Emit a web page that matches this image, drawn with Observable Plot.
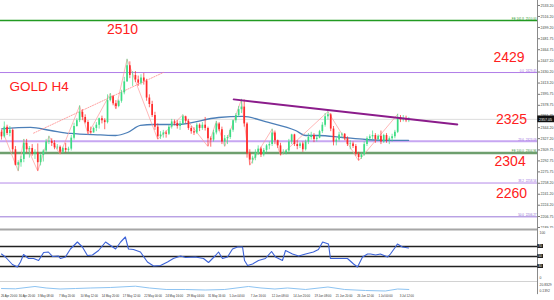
<!DOCTYPE html>
<html><head><meta charset="utf-8">
<script src="https://cdn.jsdelivr.net/npm/d3@7"></script>
<script src="https://cdn.jsdelivr.net/npm/@observablehq/plot@0.6"></script>
<style>
html,body{margin:0;padding:0;background:#fff;}
#wrap{position:relative;width:554px;height:300px;overflow:hidden;background:#fff;}
#wrap > div{position:absolute;left:0;}
svg{display:block;}
</style></head><body>
<div id="wrap"><div id="main" style="top:0"></div><div id="rsi" style="top:228px"></div><div id="sub" style="top:282px"></div></div>
<script>
// ---- DATA: XAUUSD candles (3 per trading day, 29 Apr - 4 Jul) ----
const openP = [2337,2330,2345, 2335,2340,2310, 2286,2290,2295, 2320,2310,2312, 2303,2305,2290, 2301,2308,2322, 2323,2320,2313, 2314,2306,2312, 2309,2311,2328, 2346,2355,2368, 2360,2352,2338, 2336,2343,2348, 2358,2355,2352, 2386,2392,2381, 2377,2385,2398, 2415,2440,2425, 2425,2418,2413, 2421,2416,2390, 2380,2363,2345, 2330,2333,2336, 2334,2345,2353, 2351,2346,2350, 2361,2354,2343, 2338,2336,2348, 2343,2348,2343, 2327,2325,2336, 2350,2341,2322, 2327,2329,2340, 2355,2363,2372, 2376,2350,2304, 2294,2297,2305, 2311,2302,2309, 2316,2318,2336, 2324,2316,2305, 2305,2308,2322, 2333,2318,2315, 2319,2310,2322, 2329,2332,2326, 2328,2338,2348, 2361,2364,2342, 2322,2325,2333, 2334,2327,2318, 2319,2315,2303, 2298,2302,2318, 2327,2330,2332, 2326,2331,2322, 2332,2324,2327, 2330,2337,2360, 2356,2358,2355];
const highP = [2340,2353,2348, 2346,2342,2315, 2293,2300,2326, 2326,2315,2318, 2310,2319,2303, 2310,2326,2331, 2327,2324,2318, 2316,2314,2320, 2314,2332,2351, 2358,2378,2372, 2364,2355,2345, 2345,2352,2359, 2362,2358,2395, 2397,2394,2386, 2387,2402,2422, 2450,2446,2431, 2431,2424,2426, 2428,2419,2395, 2385,2368,2350, 2338,2340,2339, 2348,2357,2356, 2355,2354,2364, 2362,2357,2346, 2344,2351,2350, 2352,2360,2345, 2330,2340,2354, 2352,2345,2332, 2332,2342,2356, 2366,2377,2388, 2387,2352,2310, 2300,2310,2316, 2314,2312,2318, 2322,2342,2339, 2325,2320,2310, 2310,2326,2334, 2334,2324,2321, 2322,2325,2335, 2337,2335,2331, 2340,2352,2366, 2369,2366,2346, 2328,2337,2336, 2335,2330,2324, 2322,2318,2306, 2305,2322,2330, 2333,2339,2335, 2333,2339,2334, 2335,2330,2334, 2340,2365,2363, 2363,2362,2360];
const lowP = [2325,2328,2332, 2330,2305,2285, 2277,2283,2290, 2305,2297,2300, 2295,2277,2285, 2291,2305,2318, 2315,2310,2310, 2303,2304,2305, 2306,2308,2325, 2345,2352,2355, 2350,2334,2334, 2336,2338,2342, 2350,2341,2350, 2384,2378,2373, 2375,2382,2395, 2415,2420,2408, 2414,2408,2410, 2410,2385,2375, 2360,2340,2326, 2326,2328,2328, 2332,2342,2347, 2342,2340,2348, 2350,2340,2334, 2332,2334,2338, 2340,2339,2315, 2314,2322,2333, 2338,2318,2315, 2318,2326,2337, 2351,2360,2366, 2345,2297,2286, 2288,2293,2301, 2298,2299,2305, 2310,2315,2318, 2312,2301,2302, 2302,2305,2318, 2315,2310,2312, 2306,2308,2318, 2325,2321,2322, 2327,2335,2345, 2356,2338,2316, 2316,2322,2328, 2324,2315,2310, 2312,2300,2293, 2295,2300,2315, 2323,2325,2320, 2323,2318,2320, 2320,2318,2322, 2327,2335,2352, 2353,2352,2352];
const closeP = [2330,2345,2335, 2340,2310,2286, 2290,2295,2320, 2310,2312,2303, 2305,2290,2301, 2308,2322,2323, 2320,2313,2314, 2306,2312,2309, 2311,2328,2346, 2355,2368,2360, 2352,2338,2336, 2343,2348,2358, 2355,2352,2386, 2392,2381,2377, 2385,2398,2415, 2440,2425,2425, 2418,2413,2421, 2416,2390,2380, 2363,2345,2330, 2333,2336,2334, 2345,2353,2351, 2346,2350,2361, 2354,2343,2338, 2336,2348,2343, 2348,2343,2327, 2325,2336,2350, 2341,2322,2327, 2329,2340,2355, 2363,2372,2376, 2350,2304,2294, 2297,2305,2311, 2302,2309,2316, 2318,2336,2324, 2316,2305,2305, 2308,2322,2333, 2318,2315,2319, 2310,2322,2329, 2332,2326,2328, 2338,2348,2361, 2364,2342,2322, 2325,2333,2334, 2327,2318,2319, 2315,2303,2298, 2302,2318,2327, 2330,2332,2326, 2331,2322,2332, 2324,2327,2330, 2337,2360,2356, 2358,2355,2357];

// moving average (bar index, price)
const maIdx = [0,10.4,17.6,24.7,35.5,40.9,45.2,49.8,54.5,63,77.8,86.4,95.7,105.4,109,113.6,122.2,130.5,139.4,145.9];
const maVal = [2342.2,2344.5,2339.8,2335.2,2332.9,2332.1,2336.7,2347.6,2349.1,2349.1,2359.9,2361.5,2352.2,2339.8,2332.1,2332.1,2329,2325.9,2324.4,2324.4];

// zigzag swing points
const zzIdx = [0,6,8,13,17,21,28,31,39,41,45,56,65,74,77,80,86,89,97,100,117,128,142];
const zzVal = [2343,2277,2326,2277,2331,2303,2378,2334,2397,2373,2450,2326,2364,2315,2354,2315,2388,2286,2342,2301,2369,2293,2365];

// dotted support trend and purple resistance trend
const dotIdx = [11.5,58];
const dotVal = [2335.7,2429.5];
const resIdx = [83.2,163.4];
const resVal = [2387.8,2349.1];

// fibonacci levels
const fibVal = [2510.00,2429.45,2323.09,2304.96,2258.56,2206.27];
const fibText = ["FE 161.8  2510.00","0.0  2429.45","23.6  2323.09","FE 100.0  2304.96","38.2  2258.56","50.0  2206.27"];
const lastPrice = 2357.05;

// red annotations
const targetText = ["2510","2429","2325","2304","2260"];
const targetIdx = [43.4,181.9,182.8,182.3,182.8];
const targetVal = [2496,2453,2357,2292,2242];
const titleText = "GOLD H4";
const titleIdx = 2.9, titleVal = 2408;

// price axis ticks
const yTicks = [2189.75,2206.75,2224.20,2241.20,2258.20,2275.75,2292.75,2309.75,2327.20,2344.20,2361.75,2378.75,2395.75,2413.20,2430.20,2447.20,2464.75,2481.75,2499.20,2516.20,2533.20];

// RSI
const rsiIdx = [0,1.4,3.9,5.7,6.8,7.9,9.7,11.5,13.3,15.1,16.8,18.3,20.4,21.1,22.9,24.7,27.2,29,30.8,32.6,34.8,37.3,39.1,40.9,42.7,44.4,45.5,47.3,49.8,52.3,54.5,57,59.5,61.6,64.2,66,69.5,72.4,74.2,76.7,77.8,79.2,81,82.8,84.6,86.4,87.1,88.2,90,92.1,94.6,96.8,98.2,100.7,101.8,104.3,106.5,109,111.8,113.6,115.1,117.2,117.9,120.8,124,126.2,127.6,129.4,131.2,132.3,134.1,135.8,138.4,139.4,141.2,141.9,143.7,145.9];
const rsiVal = [55,49,34,29,39,54,46,46,42,58,59,50,51,46,49,65,79,69,52,53,62,79,72,65,79,89,65,64,59,39,31,32,39,46,51,48,49,46,38,52,59,46,49,65,69,69,42,32,35,42,46,60,49,42,62,55,51,55,59,64,79,75,46,46,46,35,29,49,55,55,53,55,49,55,69,75,69,67];
const rsiLevels = [70,50,30];

// lower indicator
const subIdx = [0,5,12,16,21,26.5,32,39,48,53,59,66,73,80,88.5,93,98,102.5,109,117,123,130.5,137.6,142,146];
const subVal = [21.3,20.5,26.7,22.7,20,21.3,22.7,24,27.5,22.7,18.7,18.7,17.3,18.7,26.7,22.7,20,22.7,18.7,25.3,18.7,16,14.7,20,18.7];
const subLabels = ["20.8329","0.1392"];

// time axis labels
const xTickIdx = [-0.2,6.2,13,20.6,28.3,35.9,43.5,51.2,58.8,66.4,74,81.7,89.3,96.9,104.6,112.2,119.8,127.5,135.1,142.7];
const xTickText = ["26 Apr 20:00","30 Apr 20:00","3 May 08:00","7 May 20:00","10 May 12:00","14 May 20:00","17 May 12:00","22 May 00:00","24 May 16:00","29 May 04:00","31 May 16:00","5 Jun 04:00","7 Jun 16:00","12 Jun 08:00","14 Jun 20:00","19 Jun 08:00","21 Jun 20:00","26 Jun 12:00","1 Jul 00:00","3 Jul 12:00"];

// ---- LAYOUT ----
const FONT = "Liberation Sans, Arial, sans-serif";
const PX = 2.79;
const RIGHT = 537;
const xDomain = [-1 / PX, (RIGHT - 1) / PX];
const xMax = xDomain[1];
const u = 1 / PX; // one pixel in index units

const bars = openP.map((o, i) => ({i, o, h: highP[i], l: lowP[i], c: closeP[i], up: closeP[i] >= o}));
const ma = maIdx.map((i, k) => ({i, v: maVal[k]}));
const zz = zzIdx.map((i, k) => ({i, v: zzVal[k]}));
const dotT = dotIdx.map((i, k) => ({i, v: dotVal[k]}));
const resT = resIdx.map((i, k) => ({i, v: resVal[k]}));
const fibColors = ["#229a22","#b07ce8","#c7a6f2","#6e9f6e","#b48ae8","#9a78d8"];
const fibWidths = [1.4,1,2,2.4,1,1];
const fibTextColors = ["#2a9a2a","#a070e0","#a070e0","#3f8f3f","#a070e0","#8a68d0"];
const fib = fibVal.map((v, k) => ({v, t: fibText[k], col: fibColors[k], w: fibWidths[k], tc: fibTextColors[k]}));
const targets = targetText.map((t, k) => ({t, i: targetIdx[k], v: targetVal[k]}));
const BULL = "#3ddc84", BEAR = "#ff2a2a";

const main = Plot.plot({
  width: 554, height: 229, marginLeft: 0, marginRight: 17, marginTop: 0, marginBottom: 1,
  style: {background: "#fff", fontFamily: FONT, overflow: "visible"},
  x: {domain: xDomain, axis: null},
  y: {domain: [2188.2, 2540.9], range: [228, 0], label: null},
  marks: [
    Plot.ruleY([lastPrice], {x1: xDomain[0], x2: xMax, stroke: "#dcdcdc", strokeWidth: 1}),
    ...fib.map(f => Plot.ruleY([f.v], {x1: xDomain[0], x2: xMax, stroke: f.col, strokeWidth: f.w})),
    Plot.line(ma, {x: "i", y: "v", stroke: "#4c7fb8", strokeWidth: 1.3, curve: "monotone-x"}),
    Plot.line(zz, {x: "i", y: "v", stroke: "#ff9a9a", strokeWidth: 0.7}),
    Plot.line(dotT, {x: "i", y: "v", stroke: "#ff8a8a", strokeWidth: 0.8, strokeDasharray: "1.2,1.4"}),
    Plot.ruleX(bars, {x: "i", y1: "l", y2: "h", stroke: d => d.up ? BULL : BEAR, strokeWidth: 0.7}),
    Plot.ruleX(bars, {x: "i", y1: "o", y2: "c", stroke: d => d.up ? BULL : BEAR, strokeWidth: 1.7}),
    Plot.line(resT, {x: "i", y: "v", stroke: "#8b1c8b", strokeWidth: 1.8}),
    Plot.text(fib, {x: xMax, y: "v", text: "t", fill: "tc", textAnchor: "end", lineAnchor: "bottom", dx: -1, dy: -0.6, fontSize: 3}),
    Plot.text(targets, {x: "i", y: "v", text: "t", fill: "#ff2020", fontSize: 14, textAnchor: "middle"}),
    Plot.text([titleText], {x: titleIdx, y: titleVal, text: d => d, fill: "#ff2020", fontSize: 13.5, textAnchor: "start"}),
    Plot.ruleX([xMax], {stroke: "#8a8a8a", strokeWidth: 1}),
    Plot.axisY({anchor: "right", ticks: yTicks, tickFormat: d => d.toFixed(2), tickSize: 2, tickPadding: 1, fontSize: 3.6, stroke: "#777", color: "#444", label: null}),
    Plot.rect([lastPrice], {x1: xMax + 0.3 * u, x2: xMax + 17 * u, y1: d => d - 5.2, y2: d => d + 5.2, fill: "#111"}),
    Plot.text([lastPrice], {x: xMax + 1.5 * u, y: d => d, text: d => d.toFixed(2), fill: "#fff", fontSize: 3.6, textAnchor: "start"})
  ]
});
document.getElementById("main").appendChild(main);

const rsiData = rsiIdx.map((i, k) => ({i, v: rsiVal[k]}));
const rsi = Plot.plot({
  width: 554, height: 54, marginLeft: 0, marginRight: 17, marginTop: 0, marginBottom: 0,
  style: {background: "#fff", fontFamily: FONT, overflow: "visible"},
  x: {domain: xDomain, axis: null},
  y: {domain: [0, 100], range: [53, 3], axis: null},
  marks: [
    Plot.ruleY([104], {x1: xDomain[0], x2: xMax, stroke: "#a6a6a6", strokeWidth: 2}),
    Plot.ruleY(rsiLevels, {x1: xDomain[0], x2: xMax, stroke: "#222", strokeWidth: 1.3}),
    Plot.line(rsiData, {x: "i", y: "v", stroke: "#3d63d8", strokeWidth: 1.1}),
    Plot.ruleY([-1.4], {x1: xDomain[0], x2: xMax, stroke: "#a6a6a6", strokeWidth: 1.5}),
    Plot.ruleX([xMax], {y1: -3, y2: 106, stroke: "#8a8a8a", strokeWidth: 1}),
    Plot.rect(rsiLevels, {x1: xMax + 0.3 * u, x2: xMax + 6 * u, y1: d => d - 4, y2: d => d + 4, fill: "#222"}),
    Plot.text(rsiLevels, {x: xMax + 0.8 * u, y: d => d, text: d => String(d), fill: "#fff", fontSize: 3, textAnchor: "start"}),
    Plot.text(["100"], {x: xMax + 2 * u, y: 100, text: d => d, fill: "#444", fontSize: 3.4, textAnchor: "start", lineAnchor: "top"}),
    Plot.text(["0"], {x: xMax + 2 * u, y: 5, text: d => d, fill: "#444", fontSize: 3.4, textAnchor: "start", lineAnchor: "bottom"})
  ]
});
document.getElementById("rsi").appendChild(rsi);

const subData = subIdx.map((i, k) => ({i, v: subVal[k]}));
const ticks = xTickIdx.map((i, k) => ({i, t: xTickText[k]}));
const sub = Plot.plot({
  width: 554, height: 18, marginLeft: 0, marginRight: 17, marginTop: 0, marginBottom: 0,
  style: {background: "#fff", fontFamily: FONT, overflow: "visible"},
  x: {domain: xDomain, axis: null},
  y: {domain: [0, 40], range: [14, -1], axis: null},
  marks: [
    Plot.line(subData, {x: "i", y: "v", stroke: "#8ec4f2", strokeWidth: 1}),
    Plot.ruleX([xMax], {y1: 40, y2: 5, stroke: "#8a8a8a", strokeWidth: 1}),
    Plot.text(subLabels, {x: xMax + 2 * u, y: (d, k) => [32, 16][k], text: d => d, fill: "#444", fontSize: 3.4, textAnchor: "start"}),
    Plot.text(ticks, {x: "i", y: 0, text: "t", fill: "#333", fontSize: 2.9, textAnchor: "start", lineAnchor: "middle"})
  ]
});
document.getElementById("sub").appendChild(sub);
</script>
</body></html>
